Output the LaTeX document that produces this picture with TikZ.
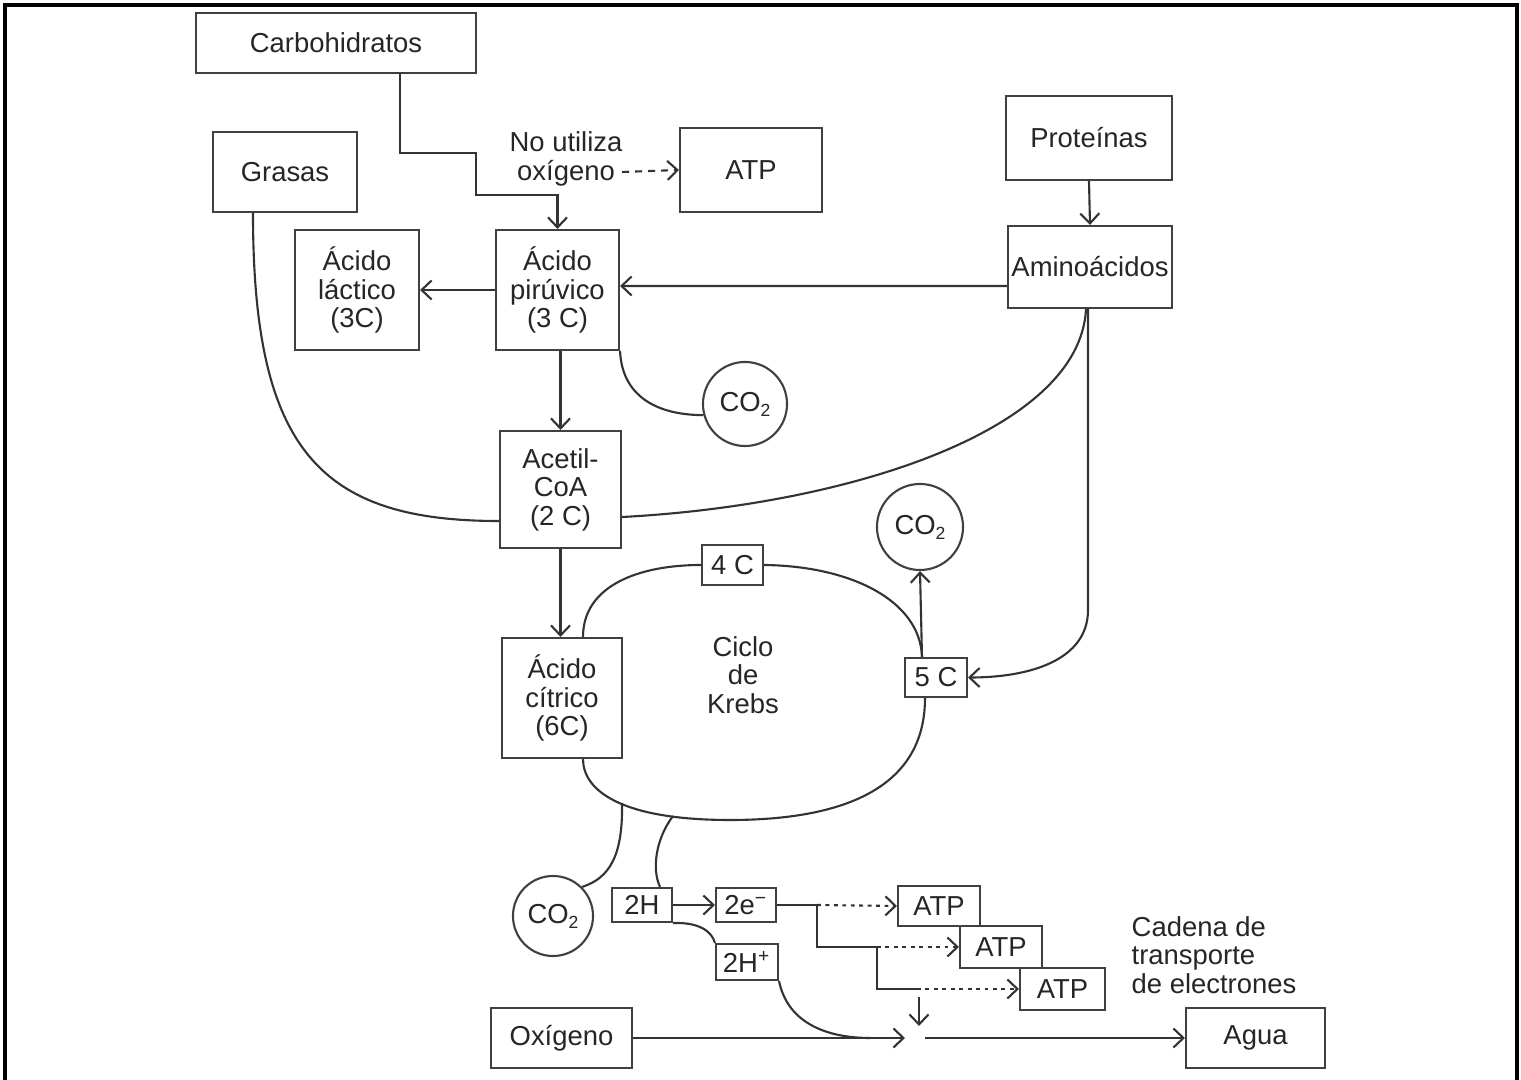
\documentclass[tikz,border=0pt]{standalone}
\usepackage{fontspec}
\setmainfont{Liberation Sans}
\usetikzlibrary{arrows.meta,calc}
\newcommand{\mysub}[1]{\raisebox{-0.35ex}{\fontsize{5pt}{5pt}\selectfont #1}}
\begin{document}
\begin{tikzpicture}[x=0.01cm,y=-0.01cm,
  every node/.style={font=\fontsize{7.8pt}{8.1pt}\selectfont, text=black!85},
  sz/.style 2 args={minimum width=#1*0.01cm, minimum height=#2*0.01cm},
  box/.style={draw=black!75, line width=0.6pt, fill=white, inner sep=0pt, align=center},
  circ/.style={draw=black!75, line width=0.6pt, circle, inner sep=0pt, fill=white},
  ln/.style={draw=black!80, line width=0.6pt},
  arr/.style={ln, -{Straight Barb[length=1mm,width=1.9mm]}},
  dasharr/.style={arr, dash pattern=on 2pt off 1.7pt},
  dotarr/.style={arr, dash pattern=on 1.1pt off 1.3pt},
  frame/.style={draw=black, line width=0.9pt}
]
\useasboundingbox (0,0) rectangle (1521,1080);
% frame
\draw[frame] (5,1080) -- (5,5) -- (1517,5) -- (1517,1080);

% nodes
\node[box, sz={280}{60}] (carb) at (336,43) {Carbohidratos};
\node[box, sz={144}{80}] (gras) at (285,172) {Grasas};
\node[align=center, inner sep=0pt] (nouti) at (566,159) {No utiliza\\oxígeno};
\node[box, sz={142}{84}] (atp0) at (751,170) {ATP};
\node[box, sz={166}{84}] (prot) at (1089,138) {Proteínas};
\node[box, sz={164}{82}] (amino) at (1090,267) {Aminoácidos};
\node[box, sz={124}{120}] (lact) at (357,290) {Ácido\\láctico\\(3C)};
\node[box, sz={123}{120}] (piru) at (557.5,290) {Ácido\\pirúvico\\(3 C)};
\node[circ, minimum size=0.84cm] (co2a) at (745,404) {CO\mysub{2}};
\node[box, sz={121}{117}] (acet) at (560.5,489.5) {Acetil-\\CoA\\(2 C)};
\node[circ, minimum size=0.86cm] (co2b) at (920,527) {CO\mysub{2}};
\node[box, sz={61}{40}] (c4) at (732.5,565) {4 C};
\node[align=center, inner sep=0pt] (krebs) at (743,675) {Ciclo\\de\\Krebs};
\node[box, sz={62}{39}] (c5) at (936,677.5) {5 C};
\node[box, sz={120}{120}] (citr) at (562,698) {Ácido\\cítrico\\(6C)};
\node[circ, minimum size=0.80cm] (co2c) at (553,916) {CO\mysub{2}};
\node[box, sz={60}{34}] (h2) at (642,905) {2H};
\node[box, sz={60}{34}] (e2) at (746,905) {2e\textsuperscript{−}};
\node[box, sz={62}{36}] (hp) at (747,962) {2H\textsuperscript{+}};
\node[box, sz={82}{40}] (atp1) at (939,906) {ATP};
\node[box, sz={82}{42}] (atp2) at (1001,947) {ATP};
\node[box, sz={85}{42}] (atp3) at (1062.5,989) {ATP};
\node[align=left, anchor=west, inner sep=0pt] (cadena) at (1131,955) {Cadena de\\transporte\\de electrones};
\node[box, sz={141}{60}] (oxi) at (561.5,1038) {Oxígeno};
\node[box, sz={139}{60}] (agua) at (1255.5,1038) {Agua};

% coordinates for free ends
\coordinate (nd) at (622,172);
\coordinate (lb1) at (622,803);
\coordinate (lb2) at (673,816);
\coordinate (mrg) at (870,1038);
\coordinate (o2end) at (905,1038);
\coordinate (o2start) at (925,1038);
\coordinate (da1) at (919,997);
\coordinate (da2) at (919,1026);
\coordinate (b1) at (817,905);
\coordinate (b2) at (877,947);
\coordinate (b3) at (917,989);

% connectors
\draw[arr] ([xshift=0.64cm]carb.south) |- (476,153) -- (476,195) -| (piru.north);
\draw[dasharr] (nd) -- (atp0.west);
\draw[ln] ([xshift=-0.32cm]gras.south) .. controls (253,450) and (320,521) .. ([yshift=-0.315cm]acet.west);
\draw[arr] (piru.west) -- (lact.east);
\draw[arr] ([yshift=-0.19cm]amino.west) -- ([yshift=0.04cm]piru.east);
\draw[arr] (prot.south) -- (amino.north);
\draw[ln] (piru.south east) .. controls (622,395) and (655,415) .. (co2a.195);
\draw[arr] (acet.north |- piru.south) -- (acet.north);
\draw[ln] ([xshift=-0.04cm]amino.south) .. controls (1080,430) and (850,505) .. ([yshift=-0.275cm]acet.east);
\draw[arr] ([xshift=-0.02cm]amino.south) -- (1088,610) .. controls (1088,660) and (1030,677.5) .. (c5.east);
\draw[arr] (acet.south) -- (acet.south |- citr.north);
\draw[arr] ([xshift=-0.14cm]c5.north) -- (co2b.south);

% Krebs loop
\draw[ln] ([xshift=0.21cm]citr.north) .. controls (583,585) and (640,565) .. (c4.west);
\draw[ln] (c4.east) .. controls (850,566) and (920,600) .. ([xshift=-0.14cm]c5.north);
\draw[ln] ([xshift=-0.11cm]c5.south) .. controls (925,790) and (840,820) .. (730,820)
  .. controls (620,820) and (583,790) .. ([xshift=0.21cm]citr.south);

% lower part
\draw[ln] (lb1) .. controls (623,855) and (610,878) .. (co2c.45);
\draw[ln] (lb2) .. controls (655,840) and (652,870) .. ([xshift=0.18cm]h2.north);
\draw[arr] (h2.east) -- (e2.west);
\draw[ln] (h2.south east) .. controls (700,922) and (712,932) .. (hp.north west);
\draw[ln] (hp.south east) .. controls (788,1025) and (830,1038) .. (mrg);
\draw[ln] (e2.east) -- (b1) |- (b2) |- (b3);
\draw[dotarr] (b1) -- (atp1.west);
\draw[dotarr] (b2) -- (atp2.west);
\draw[dotarr] (b3) -- (atp3.west);
\draw[arr] (oxi.east) -- (o2end);
\draw[arr] (o2start) -- (agua.west);
\draw[arr] (da1) -- (da2);
\end{tikzpicture}
\end{document}
